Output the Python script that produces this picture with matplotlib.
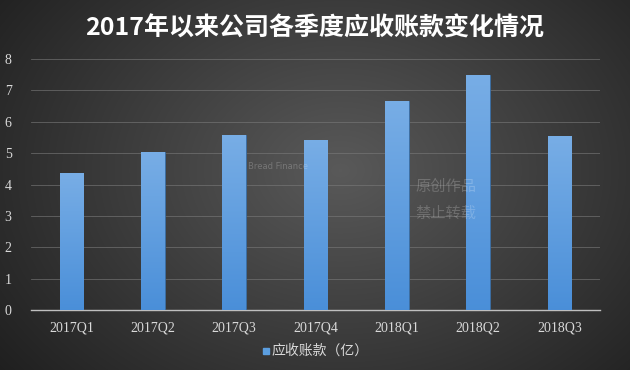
import numpy as np
import matplotlib
matplotlib.use("Agg")
import matplotlib.pyplot as plt

categories = ["2017Q1", "2017Q2", "2017Q3", "2017Q4", "2018Q1", "2018Q2", "2018Q3"]
values = [4.36, 5.03, 5.57, 5.41, 6.66, 7.48, 5.54]
yticks = [0, 1, 2, 3, 4, 5, 6, 7, 8]
title = "2017年以来公司各季度应收账款变化情况"
legend_label = "应收账款（亿）"

cjk = ["Noto Sans CJK SC", "DejaVu Sans"]

fig = plt.figure(figsize=(6.3, 3.7), dpi=100)

# background radial gradient
bg = fig.add_axes([0, 0, 1, 1])
yy, xx = np.mgrid[0:370, 0:630]
r = np.sqrt(((xx - 340) / 400.0) ** 2 + ((yy - 170) / 300.0) ** 2)
shade = np.clip(0.35 - 0.21 * r, 0.12, 0.35)
img = np.dstack([shade, shade, shade])
bg.imshow(img, aspect="auto", extent=[0, 1, 0, 1], origin="upper")
bg.set_axis_off()

ax = fig.add_axes([31 / 630, 1 - 310 / 370, 569 / 630, 251 / 370])
ax.patch.set_alpha(0)
x = np.arange(len(categories))
bars = ax.bar(x, values, width=0.29, color="#5b9ee0", edgecolor="#3a6ea5", linewidth=0.6, zorder=3)

# vertical gradient inside each bar
grad = np.linspace(0, 1, 256).reshape(-1, 1)
top = np.array([0.47, 0.68, 0.90])
bot = np.array([0.29, 0.56, 0.85])
gimg = (top[None, None, :] * (1 - grad[:, :, None]) + bot[None, None, :] * grad[:, :, None])
for b in bars:
    x0, w, h = b.get_x(), b.get_width(), b.get_height()
    im = ax.imshow(gimg, extent=[x0, x0 + w, 0, h], aspect="auto", origin="upper", zorder=3.5)
    im.set_clip_path(b)

ax.set_xlim(-0.5, len(categories) - 0.5)
ax.set_ylim(0, 8)
ax.set_yticks(yticks)
ax.set_yticklabels([str(t) for t in yticks], family="Liberation Serif", fontsize=10, color="#d9d9d9")
ax.set_xticks(x)
ax.set_xticklabels(categories, family="Liberation Serif", fontsize=10, color="#d9d9d9")
ax.tick_params(length=0, pad=8)
ax.tick_params(axis="y", pad=14)
ax.grid(axis="y", color="#7a7a7a", linewidth=0.6, alpha=0.7, zorder=0)
for s in ["top", "right", "left"]:
    ax.spines[s].set_visible(False)
ax.spines["bottom"].set_color("#bfbfbf")
ax.spines["bottom"].set_linewidth(1.0)

# watermark
fig.text(415 / 630, 1 - 186 / 370, "原创作品", family=cjk, fontsize=11, color="white", alpha=0.2, va="center")
fig.text(415 / 630, 1 - 213 / 370, "禁止转载", family=cjk, fontsize=11, color="white", alpha=0.2, va="center")
fig.text(248 / 630, 1 - 166 / 370, "Bread Finance", family="DejaVu Sans", fontsize=6, color="white", alpha=0.22, va="center")

fig.text(0.5, 1 - 29 / 370, title, family=cjk, fontsize=18, fontweight="bold", color="white", ha="center", va="center")

# legend
fig.patches.append(plt.Rectangle((263 / 630, 1 - 354 / 370), 6 / 630, 6 / 370, transform=fig.transFigure,
                                 color="#5b9ee0", figure=fig))
fig.text(271 / 630, 1 - 351 / 370, legend_label, family=cjk, fontsize=10, color="#d9d9d9", va="center")

fig.savefig("out.png", dpi=100)
